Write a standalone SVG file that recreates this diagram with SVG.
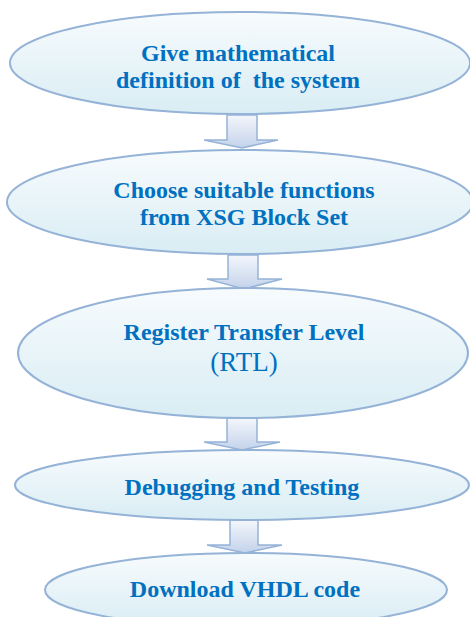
<svg xmlns="http://www.w3.org/2000/svg" width="470" height="617" viewBox="0 0 470 617">
<defs>
<linearGradient id="gE" x1="0" y1="0" x2="0" y2="1">
<stop offset="0" stop-color="#f7fbfd"/>
<stop offset="1" stop-color="#d9edf4"/>
</linearGradient>
<linearGradient id="gA" x1="0" y1="0" x2="0" y2="1">
<stop offset="0" stop-color="#f4f7fc"/>
<stop offset="1" stop-color="#c3d2ea"/>
</linearGradient>
<style>
.e{fill:url(#gE);stroke:#95b3d7;stroke-width:2}
.a{fill:url(#gA);stroke:#95b3d7;stroke-width:1.5}
.t{font-family:'Liberation Serif',serif;font-size:24px;font-weight:bold;fill:#0070c0;text-anchor:middle}
.n{font-weight:normal;font-size:27px}
</style>
</defs>
<rect width="470" height="617" fill="#ffffff"/>
<g id="connectors">
<path class="a" d="M227,115 H257 V140 H278 L242,148 L204,140 H227 Z"/>
<path class="a" d="M228,255 H258 V279 H282 L244,289 L207,279 H228 Z"/>
<path class="a" d="M227,418 H257 V442 H280 L242,450 L204,442 H227 Z"/>
<path class="a" d="M230,520 H258 V545 H282 L245,553 L207,545 H230 Z"/>
</g>
<g id="node1">
<ellipse class="e" cx="240" cy="63" rx="230" ry="51"/>
<text class="t" x="238" y="61">Give mathematical</text>
<text class="t" x="238" y="88" xml:space="preserve">definition of  the system</text>
</g>
<g id="node2">
<ellipse class="e" cx="240" cy="202" rx="233" ry="52"/>
<text class="t" x="244" y="198">Choose suitable functions</text>
<text class="t" x="244" y="225">from XSG Block Set</text>
</g>
<g id="node3">
<ellipse class="e" cx="243" cy="353" rx="225" ry="65"/>
<text class="t" x="244" y="340">Register Transfer Level</text>
<text class="t n" x="244" y="371">(RTL)</text>
</g>
<g id="node4">
<ellipse class="e" cx="242" cy="485" rx="227" ry="35"/>
<text class="t" x="242" y="495">Debugging and Testing</text>
</g>
<g id="node5">
<ellipse class="e" cx="246" cy="590" rx="201" ry="37"/>
<text class="t" x="245" y="597">Download VHDL code</text>
</g>
</svg>
